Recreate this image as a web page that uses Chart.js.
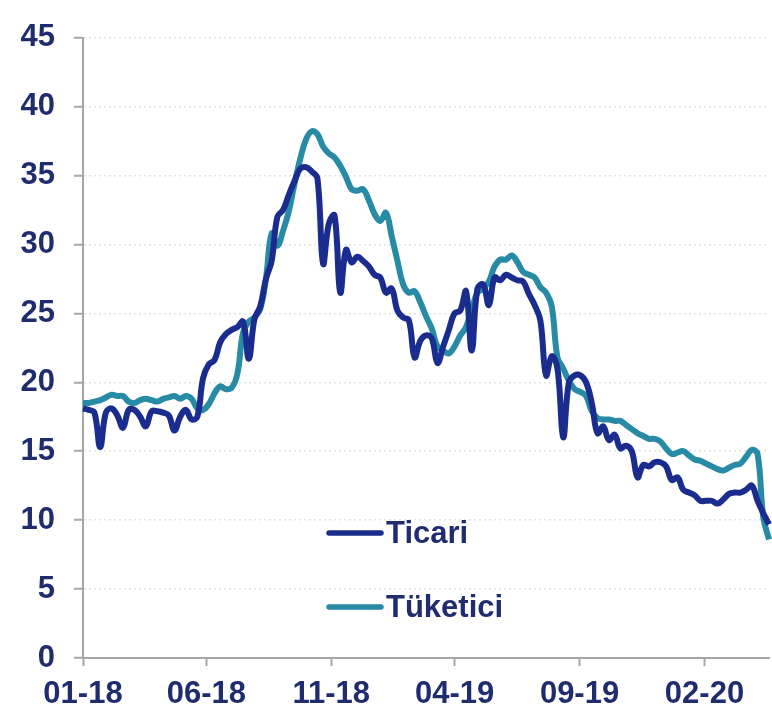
<!DOCTYPE html>
<html>
<head>
<meta charset="utf-8">
<style>
  body { margin: 0; background: #fff; }
</style>
</head>
<body>
<canvas id="rateChart" width="772" height="710"></canvas>
<script src="https://cdn.jsdelivr.net/npm/chart.js"></script>
<script>
    // weekly series, starting 01-2018
    const startDate = Date.UTC(2018, 0, 1);
    const tickLabels = ['01-18', '06-18', '11-18', '04-19', '09-19', '02-20'];

    const ticari = [
        18.1, 18.0, 17.8, 15.3, 17.8, 18.1, 17.6, 16.7, 18.0, 18.0,
        17.5, 16.8, 17.9, 17.9, 17.8, 17.6, 16.5, 17.5, 18.0, 17.3,
        17.5, 20.3, 21.3, 21.6, 22.9, 23.5, 23.8, 24.0, 24.4, 21.7,
        24.6, 25.5, 27.5, 28.8, 32.0, 32.5, 33.6, 34.6, 35.5, 35.6,
        35.3, 34.8, 28.6, 31.5, 32.1, 26.5, 29.6, 28.7, 29.1, 28.8,
        28.4, 27.8, 27.6, 26.5, 26.8, 25.2, 24.7, 24.5, 21.8, 23.0,
        23.4, 23.2, 21.4, 22.6, 23.8, 25.0, 25.2, 26.6, 22.3, 26.8,
        27.1, 25.6, 27.6, 27.4, 27.8, 27.6, 27.4, 27.3, 26.4, 25.6,
        24.5, 20.5, 21.9, 21.0, 16.0, 20.0, 20.5, 20.5, 20.0, 18.5,
        16.3, 16.8, 15.8, 16.2, 15.2, 15.4, 15.0, 13.1, 14.0, 13.9,
        14.2, 14.2, 13.9, 12.9, 13.1, 12.2, 12.0, 11.8, 11.4, 11.4,
        11.4, 11.2, 11.5, 11.9, 12.0, 12.0, 12.2, 12.5, 11.4, 10.5,
        9.7
    ];

    const tuketici = [
        18.5, 18.5, 18.6, 18.7, 18.9, 19.1, 19.0, 19.0, 18.6, 18.5,
        18.7, 18.8, 18.7, 18.6, 18.8, 18.9, 19.0, 18.8, 19.0, 18.8,
        18.1, 18.0, 18.4, 19.2, 19.7, 19.5, 19.6, 20.6, 23.6, 24.4,
        24.7, 25.3, 27.5, 30.8, 29.9, 31.0, 32.4, 34.4, 36.2, 37.6,
        38.2, 38.0, 37.1, 36.6, 36.3, 35.7, 34.9, 34.0, 33.9, 34.0,
        33.2, 32.2, 31.7, 32.3, 30.6, 28.8, 27.1, 26.5, 26.6, 25.8,
        24.8, 23.9, 22.6, 22.3, 22.1, 22.6, 23.4, 24.0, 25.3, 26.5,
        26.8, 27.3, 28.4, 28.9, 28.9, 29.2, 28.7, 28.0, 27.8, 27.6,
        26.9, 26.5, 25.5, 21.8, 21.0, 20.1, 19.5, 19.3, 19.0, 17.9,
        17.4, 17.3, 17.3, 17.2, 17.2, 16.9, 16.6, 16.3, 16.1, 15.9,
        15.9, 15.7, 15.2, 14.8, 14.9, 15.0, 14.7, 14.4, 14.3, 14.1,
        13.9, 13.7, 13.6, 13.8, 14.0, 14.1, 14.6, 15.1, 14.8, 10.2,
        8.6
    ];

    const DAY = 86400000;
    const weekDays = ticari.map((_, i) => i * 7);
    const tickDays = tickLabels.map(l => {
        const [m, y] = l.split('-').map(Number);
        return Math.round((Date.UTC(2000 + y, m - 1, 1) - startDate) / DAY);
    });

    const navy = '#1f2c6e';
    const axisGray = '#a6a6a6';
    const tickFont = { family: 'Liberation Sans, Arial, sans-serif', size: 31, weight: 'bold' };

    const legendInside = {
        id: 'legendInside',
        afterDatasetsDraw(chart) {
            const c = chart.ctx;
            const rows = [533, 607];
            c.save();
            chart.data.datasets.forEach((ds, k) => {
                const y = rows[k];
                c.strokeStyle = ds.borderColor;
                c.lineWidth = 5.5;
                c.lineCap = 'round';
                c.beginPath();
                c.moveTo(329, y);
                c.lineTo(381, y);
                c.stroke();
                c.fillStyle = navy;
                c.font = 'bold 31px Liberation Sans, Arial, sans-serif';
                c.textBaseline = 'middle';
                c.fillText(ds.label, 386, y + 1);
            });
            c.restore();
        }
    };

    new Chart(document.getElementById('rateChart').getContext('2d'), {
        type: 'line',
        data: {
            datasets: [
                {
                    label: 'Ticari',
                    data: weekDays.map((d, i) => ({ x: d, y: ticari[i] })),
                    borderColor: '#1b2c8f',
                    borderWidth: 6,
                    pointRadius: 0,
                    tension: 0.4,
                    fill: false
                },
                {
                    label: 'Tüketici',
                    data: weekDays.map((d, i) => ({ x: d, y: tuketici[i] })),
                    borderColor: '#278ba6',
                    borderWidth: 6,
                    pointRadius: 0,
                    tension: 0.4,
                    fill: false
                }
            ]
        },
        options: {
            responsive: false,
            animation: false,
            clip: false,
            layout: { padding: { top: 34, right: 3, left: 0, bottom: 0 } },
            plugins: {
                legend: { display: false },
                tooltip: { enabled: false }
            },
            scales: {
                x: {
                    type: 'linear',
                    min: 0,
                    max: weekDays[weekDays.length - 1],
                    afterBuildTicks: axis => { axis.ticks = tickDays.map(v => ({ value: v })); },
                    afterFit: axis => { axis.height = 52; },
                    ticks: {
                        autoSkip: false,
                        maxRotation: 0,
                        padding: 10,
                        color: navy,
                        font: tickFont,
                        callback: v => tickLabels[tickDays.indexOf(v)]
                    },
                    grid: {
                        drawOnChartArea: false,
                        tickLength: 8,
                        tickColor: axisGray,
                        tickWidth: 2
                    },
                    border: { color: axisGray, width: 2 }
                },
                y: {
                    min: 0,
                    max: 45,
                    afterFit: axis => { axis.width = 83; },
                    ticks: {
                        stepSize: 5,
                        padding: 19,
                        color: navy,
                        font: tickFont
                    },
                    grid: {
                        color: ctx => ctx.tick && ctx.tick.value === 0 ? 'rgba(0,0,0,0)' : '#e3e3e3',
                        lineWidth: 1.5,
                        tickLength: 9,
                        tickColor: axisGray,
                        tickWidth: 2,
                        tickBorderDash: []
                    },
                    border: { color: axisGray, width: 2, dash: [2, 3] }
                }
            }
        },
        plugins: [legendInside]
    });
</script>
</body>
</html>
